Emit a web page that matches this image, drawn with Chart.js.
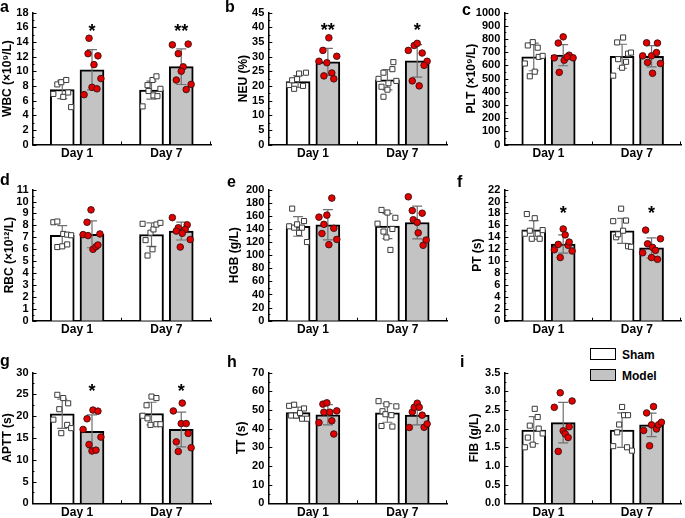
<!DOCTYPE html>
<html>
<head>
<meta charset="utf-8">
<script src="https://cdn.jsdelivr.net/npm/chart.js@4.4.1/dist/chart.umd.min.js"></script>
<style>
  body { margin: 0; background: #fff; width: 685px; height: 518px; position: relative; overflow: hidden;
         font-family: 'Liberation Sans', Arial, sans-serif; }
  canvas { position: absolute; }
  .letter { position: absolute; font-weight: bold; font-size: 16px; line-height: 16px; }
  .lg-box { position: absolute; width: 24px; height: 10px; border: 1.5px solid #000; }
  .lg-text { position: absolute; font-weight: bold; font-size: 12px; line-height: 12px; }
</style>
</head>
<body>
<div class="lg-box" style="left:590px;top:348px;background:#fff"></div>
<div class="lg-text" style="left:622px;top:349px">Sham</div>
<div class="lg-box" style="left:590px;top:369px;background:#c3c3c3"></div>
<div class="lg-text" style="left:622px;top:370px">Model</div>
<script>
const days = ['Day 1', 'Day 7'];
const groups = ['Sham', 'Model'];

// order in each array: Sham Day 1, Model Day 1, Sham Day 7, Model Day 7
const wbcMean = [7.5, 10.2, 7.42, 10.62];
const wbcSD = [1.25, 2.75, 1.23, 2.43];
const wbcPts = [
  [6.9, 8.2, 8.5, 8.8, 6.5, 7.1, 5.1],
  [6.8, 12.4, 14.5, 10.9, 12.1, 9.0, 7.8, 7.6],
  [5.2, 8.1, 8.8, 9.3, 7.3, 6.7, 6.6, 7.6],
  [13.6, 12.4, 13.7, 10.6, 10.0, 8.8, 8.2, 7.5]
];
const wbcJit = [[-9, -5, -1, 4, 1, 6, 9], [-8, -4, -3, 2, 6, 9, 0, 5], [-9, -4, 1, 5, -3, 2, 6, 9], [-9, -3, 7, 2, 0, -5, 10, 5]];
const wbcStars = ['*', '**'];
const wbcStarY = [16.1, 16.0];

const neuMean = [21.5, 28.2, 22.1, 28.55];
const neuSD = [2.0, 4.6, 3.45, 5.55];
const neuPts = [
  [20.3, 21.9, 19.0, 22.3, 24.2, 20.0, 24.5],
  [28.4, 32.1, 36.4, 30.1, 27.9, 24.4, 23.4, 22.4],
  [22.4, 24.5, 25.7, 28.1, 19.7, 18.7, 16.3, 21.7, 20.9],
  [32.1, 33.8, 34.5, 31.2, 28.4, 27.0, 21.7, 20.0]
];
const neuJit = [[-9, -6, -4, -1, 1, 5, 8], [-9, -5, 1, 9, -1, 4, -4, 6], [-9, -4, 5, 6, -6, 0, -4, 9, 1], [-9, -3, 0, 5, 10, 7, -5, 2]];
const neuStars = ['**', '*'];
const neuStarY = [40.5, 40.3];

const pltMean = [664, 677, 669, 669];
const pltSD = [105, 80, 91, 80];
const pltPts = [
  [614, 751, 776, 734, 552, 517, 664, 672],
  [657, 769, 816, 547, 639, 677, 657, 664],
  [522, 774, 811, 647, 582, 627, 689, 697],
  [672, 771, 769, 622, 672, 697, 540, 614]
];
const pltJit = [[-9, -6, -1, 4, 1, -4, 5, 9], [-9, -5, 0, -4, 1, 6, 10, 4], [-9, -5, 1, -4, 0, 4, 6, 9], [-9, -5, 6, -4, 0, 5, 1, 9]];

const rbcMean = [7.17, 7.25, 7.22, 7.52];
const rbcSD = [0.8, 1.13, 0.98, 0.75];
const rbcPts = [
  [8.26, 8.32, 7.28, 7.22, 7.17, 6.18, 6.24, 6.4],
  [7.22, 8.26, 9.3, 7.14, 7.28, 5.99, 6.21, 6.35],
  [8.13, 6.76, 7.39, 7.66, 8.07, 8.21, 5.99, 5.47],
  [8.65, 7.8, 7.52, 8.04, 7.66, 7.33, 6.81, 6.18]
];
const rbcJit = [[-9, -5, 1, 5, 9, -5, 0, 5], [-9, -5, -1, -4, 8, 1, 4, 6], [-9, -6, -1, 2, 5, 9, 1, -4], [-9, -3, -5, 6, 4, 1, 9, -1]];

const hgbMean = [143.8, 146.3, 144.3, 149.8];
const hgbSD = [15, 23, 19, 25];
const hgbPts = [
  [144, 171, 142, 147, 134, 142, 152, 120],
  [158, 147, 133, 161, 187, 141, 124, 116],
  [148, 169, 136, 127, 165, 140, 157, 108],
  [189, 168, 154, 150, 164, 134, 123, 115]
];
const hgbJit = [[-9, -6, -4, -1, 1, 4, 6, 9], [-9, -4, -6, -1, 4, 6, 9, 1], [-10, -6, -4, -1, 0, 5, 8, 3], [-9, -5, -4, 0, 5, 1, 9, 6]];

const ptMean = [15.24, 12.87, 15.07, 12.21];
const ptSD = [1.54, 1.54, 2.1, 1.7];
const ptPts = [
  [14.6, 17.9, 15.1, 17.2, 14.6, 15.2, 13.75, 13.75],
  [11.9, 12.8, 10.6, 15.4, 14.4, 12.65, 13.2, 11.7],
  [16.7, 14.0, 14.5, 18.8, 15.1, 16.8, 12.5, 12.4],
  [11.4, 15.2, 12.9, 12.3, 11.8, 10.6, 10.3, 13.75]
];
const ptJit = [[-9, -7, -4, 1, 4, 9, -2, 6], [-9, -5, -3, 0, 2, 5, 6, 9], [-9, -6, -4, -1, 1, 4, 6, 9], [-9, -6, -4, 1, 4, 0, 6, 9]];
const ptStars = ['*', '*'];
const ptStarY = [18.7, 18.7];

const apttMean = [20.55, 16.5, 20.6, 16.95];
const apttSD = [3.35, 3.8, 2.6, 4.0];
const apttPts = [
  [19.2, 24.9, 21.6, 24.15, 22.95, 16.1, 18.0, 17.25],
  [16.95, 19.4, 21.4, 21.15, 13.5, 15.2, 12.0, 12.2],
  [20.1, 22.5, 19.5, 24.5, 24.15, 18.0, 18.15, 18.15],
  [21.2, 23.0, 18.3, 18.3, 16.05, 14.1, 11.9, 12.75]
];
const apttJit = [[-9, -5, -3, 1, 6, -1, 5, 9], [-9, -5, 1, 6, -3, 9, 0, 4], [-9, -5, -4, 0, 5, -1, 5, 9], [-8, 1, 0, 5, 7, -5, -3, 10]];
const apttStars = ['*', '*'];
const apttStarY = [26.6, 26.6];

const ttMean = [48.6, 47.4, 48.4, 47.2];
const ttSD = [2.9, 5.4, 5.0, 5.2];
const ttPts = [
  [52.2, 52.8, 47.0, 47.0, 48.4, 50.8, 45.3, 45.3],
  [43.2, 53.1, 53.8, 48.8, 48.8, 49.5, 44.2, 37.1],
  [54.7, 53.0, 49.3, 47.7, 47.2, 51.9, 41.4, 41.1],
  [40.6, 48.9, 51.4, 53.6, 51.4, 47.2, 40.7, 42.5]
];
const ttJit = [[-9, -4, -7, -2, 2, 6, 4, 9], [-9, -5, -1, -4, 2, 9, 4, 6], [-9, -1, -5, -2, 4, 9, -6, 5], [-8, -5, -3, 0, 2, 5, 7, 10]];

const fibMean = [1.96, 2.16, 1.96, 2.10];
const fibSD = [0.36, 0.54, 0.46, 0.315];
const fibPts = [
  [1.50, 1.76, 2.08, 2.53, 2.31, 1.57, 2.0, 1.87],
  [2.57, 2.96, 2.74, 2.05, 1.94, 1.86, 1.76, 1.39],
  [1.53, 1.90, 2.11, 2.58, 2.36, 2.36, 1.50, 1.41],
  [1.95, 2.42, 1.54, 2.10, 2.59, 1.99, 2.10, 2.17]
];
const fibJit = [[-9, -6, -4, 1, 4, -1, 5, 9], [-9, -3, 9, 6, 0, 2, 5, -5], [-9, -5, -3, 0, 2, 6, 5, 10], [-8, -5, -2, 0, 2, 5, 7, 10]];

const panels = [
  { letter: 'a', title: 'WBC (×10⁹/L)', mean: wbcMean, sd: wbcSD, pts: wbcPts, jit: wbcJit, max: 18, step: 2, stars: wbcStars, starY: wbcStarY },
  { letter: 'b', title: 'NEU (%)', mean: neuMean, sd: neuSD, pts: neuPts, jit: neuJit, max: 45, step: 5, stars: neuStars, starY: neuStarY },
  { letter: 'c', title: 'PLT (×10⁹/L)', mean: pltMean, sd: pltSD, pts: pltPts, jit: pltJit, max: 1000, step: 100 },
  { letter: 'd', title: 'RBC (×10¹²/L)', mean: rbcMean, sd: rbcSD, pts: rbcPts, jit: rbcJit, max: 11, step: 1 },
  { letter: 'e', title: 'HGB (g/L)', mean: hgbMean, sd: hgbSD, pts: hgbPts, jit: hgbJit, max: 200, step: 20 },
  { letter: 'f', title: 'PT (s)', mean: ptMean, sd: ptSD, pts: ptPts, jit: ptJit, max: 22, step: 2, stars: ptStars, starY: ptStarY },
  { letter: 'g', title: 'APTT (s)', mean: apttMean, sd: apttSD, pts: apttPts, jit: apttJit, max: 30, step: 5, stars: apttStars, starY: apttStarY },
  { letter: 'h', title: 'TT (s)', mean: ttMean, sd: ttSD, pts: ttPts, jit: ttJit, max: 70, step: 10 },
  { letter: 'i', title: 'FIB (g/L)', mean: fibMean, sd: fibSD, pts: fibPts, jit: fibJit, max: 3.5, step: 0.5, dec: 1 }
];

// layout of the grid (pixels)
const colAxis = [32.5, 268.3, 504.3];
const colRight = [213, 449, 683];
const rowTop = [10, 187, 370.3];
const rowBottom = [144.5, 320.7, 503.3];
const titleX = [7.5, 243, 471, 9, 234, 477, 7.5, 241, 474];
const letterPos = [[0, 12], [225, 12], [462, 15], [0, 185], [227, 187], [457, 187], [0, 366], [227, 367], [460, 367]];

const FONT = "'Liberation Sans', Arial, sans-serif";
const shamFill = '#ffffff';
const modelFill = '#c3c3c3';
const off = 1 / 3; // bar offset from group centre, in x units

// error bars drawn right after each bar dataset, before the points
const errorBars = {
  id: 'errorBars',
  afterDatasetDraw(chart, args) {
    const ds = chart.data.datasets[args.index];
    if (!ds.sd) return;
    const ctx = chart.ctx, y = chart.scales.y;
    ctx.save();
    ctx.strokeStyle = '#707070';
    ctx.lineWidth = 1.2;
    args.meta.data.forEach((bar, i) => {
      const m = ds.data[i].y, s = ds.sd[i];
      const y1 = y.getPixelForValue(m + s), y2 = y.getPixelForValue(m - s);
      ctx.beginPath();
      ctx.moveTo(bar.x, y1); ctx.lineTo(bar.x, y2);
      ctx.moveTo(bar.x - 5, y1); ctx.lineTo(bar.x + 5, y1);
      ctx.moveTo(bar.x - 5, y2); ctx.lineTo(bar.x + 5, y2);
      ctx.stroke();
    });
    ctx.restore();
  }
};

// inward ticks, major and minor
const axisTicks = {
  id: 'axisTicks',
  afterDraw(chart) {
    const ctx = chart.ctx, x = chart.scales.x, y = chart.scales.y;
    const step = chart.options.scales.y.ticks.stepSize;
    ctx.save();
    ctx.strokeStyle = '#000';
    ctx.lineWidth = 1;
    ctx.beginPath();
    for (let k = 0; k * step / 2 <= y.max + 1e-9; k++) {
      const py = Math.round(y.getPixelForValue(k * step / 2)) + 0.5;
      ctx.moveTo(x.left, py);
      ctx.lineTo(x.left + (k % 2 === 0 ? 4 : 2), py);
    }
    [2, 4].forEach(v => {
      const px = Math.round(x.getPixelForValue(v)) - 0.5;
      ctx.moveTo(px, y.bottom);
      ctx.lineTo(px, y.bottom - 3);
    });
    ctx.stroke();
    ctx.restore();
  }
};

// significance stars over Model bars
const stars = {
  id: 'stars',
  afterDraw(chart, args, opts) {
    if (!opts.text) return;
    const ctx = chart.ctx, y = chart.scales.y;
    const bars = chart.getDatasetMeta(1).data;
    ctx.save();
    ctx.fillStyle = '#000';
    ctx.font = 'bold 18px ' + FONT;
    ctx.textAlign = 'center';
    ctx.textBaseline = 'alphabetic';
    opts.text.forEach((t, i) => {
      ctx.fillText(t, bars[i].x, y.getPixelForValue(opts.y[i]) + 10);
    });
    ctx.restore();
  }
};

panels.forEach((p, k) => {
  const col = k % 3, row = Math.floor(k / 3);
  const ax = colAxis[col], ar = colRight[col], at = rowTop[row], ab = rowBottom[row];
  const cl = Math.round(titleX[k] - 7.2);
  const ct = Math.floor(at - 8);
  const w = Math.ceil(ar + 3 - cl);
  const h = Math.ceil(ab - ct + 22);
  const xh = h - (ab - ct);
  const pxPerUnit = (ar - ax) / 4;

  const cv = document.createElement('canvas');
  cv.width = w; cv.height = h;
  cv.style.left = cl + 'px'; cv.style.top = ct + 'px';
  document.body.appendChild(cv);

  const lt = document.createElement('div');
  lt.className = 'letter';
  lt.textContent = p.letter;
  lt.style.left = letterPos[k][0] + 'px';
  lt.style.top = (letterPos[k][1] - 13.5) + 'px';
  document.body.appendChild(lt);

  const centres = [1, 3];
  const barData = g => centres.map((c, d) => ({ x: c + (g ? off : -off), y: p.mean[d * 2 + g] }));
  const sdData = g => centres.map((c, d) => p.sd[d * 2 + g]);
  const ptData = g => {
    const out = [];
    centres.forEach((c, d) => {
      const vals = p.pts[d * 2 + g], jit = p.jit[d * 2 + g];
      vals.forEach((v, i) => out.push({ x: c + (g ? off : -off) + jit[i] / pxPerUnit, y: v }));
    });
    return out;
  };

  new Chart(cv.getContext('2d'), {
    type: 'bar',
    data: {
      datasets: [
        { label: groups[0], data: barData(0), sd: sdData(0), backgroundColor: shamFill, borderColor: '#000', borderWidth: 2, order: 2, grouped: false, maxBarThickness: 24, barPercentage: 1, categoryPercentage: 1 },
        { label: groups[1], data: barData(1), sd: sdData(1), backgroundColor: modelFill, borderColor: '#000', borderWidth: 2, order: 2, grouped: false, maxBarThickness: 24, barPercentage: 1, categoryPercentage: 1 },
        { type: 'scatter', label: groups[0], data: ptData(0), order: 1, pointStyle: 'rect', pointRadius: 3.6, backgroundColor: '#fff', borderColor: '#3a3a3a', borderWidth: 1 },
        { type: 'scatter', label: groups[1], data: ptData(1), order: 1, pointStyle: 'circle', pointRadius: 3.3, backgroundColor: '#e30000', borderColor: '#3a1010', borderWidth: 0.9 }
      ]
    },
    options: {
      responsive: false,
      animation: false,
      devicePixelRatio: 1,
      layout: { padding: { top: at - ct, right: 3, left: 0, bottom: 0 } },
      plugins: {
        legend: { display: false },
        tooltip: { enabled: false },
        stars: { text: p.stars, y: p.starY }
      },
      scales: {
        x: {
          type: 'linear', min: 0, max: 4, offset: false,
          grid: { display: false, drawTicks: false, offset: false },
          border: { color: '#000', width: 1.5 },
          afterBuildTicks: s => { s.ticks = [{ value: 1 }, { value: 3 }]; },
          ticks: {
            callback: v => (v === 1 ? days[0] : days[1]),
            font: { family: FONT, size: 12, weight: 'bold' }, color: '#000',
            padding: 2, maxRotation: 0, autoSkip: false
          },
          afterFit: s => { s.height = xh; }
        },
        y: {
          min: 0, max: p.max,
          grid: { display: false, drawTicks: false },
          border: { color: '#000', width: 1.5 },
          ticks: {
            stepSize: p.step,
            callback: v => (p.dec ? v.toFixed(p.dec) : String(Math.round(v))),
            font: { family: FONT, size: 11, weight: 'bold' }, color: '#000',
            padding: 4, autoSkip: false
          },
          title: { display: true, text: p.title, font: { family: FONT, size: 12, weight: 'bold' }, color: '#000', padding: 0 },
          afterFit: s => { s.width = ax - cl; }
        }
      }
    },
    plugins: [errorBars, axisTicks, stars]
  });
});
</script>
</body>
</html>
